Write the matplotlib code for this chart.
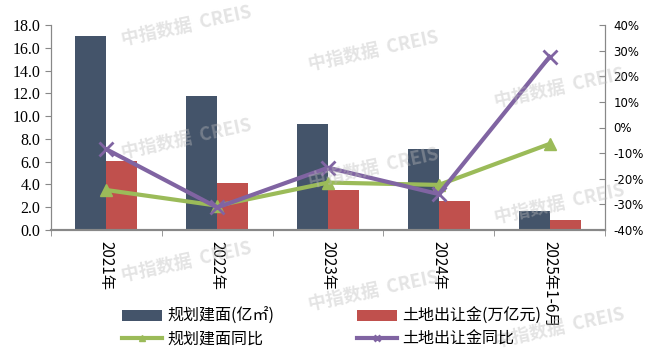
import matplotlib.pyplot as plt
import numpy as np

plt.rcParams['font.family'] = ['Noto Sans CJK SC', 'DejaVu Sans']

categories = ["2021年", "2022年", "2023年", "2024年", "2025年1-6月"]
area = [17.0, 11.8, 9.3, 7.1, 1.7]          # 规划建面(亿㎡)
fee = [6.05, 4.1, 3.5, 2.55, 0.85]          # 土地出让金(万亿元)
area_yoy = [-24.4, -30.5, -21.5, -22.4, -6.4]   # %
fee_yoy = [-8.5, -31.2, -15.7, -26.0, 27.6]     # %
left_ticks = np.arange(0, 18.1, 2)
right_ticks = np.arange(-40, 41, 10)

C_BLUE = '#44546A'
C_RED = '#C0504D'
C_GREEN = '#9BBB59'
C_PURPLE = '#8064A2'
GREY = '#888888'

fig = plt.figure(figsize=(6.66, 3.64), dpi=100)
ax = fig.add_axes([51 / 666, 1 - 230 / 364, 554 / 666, 205 / 364])
ax2 = ax.twinx()

x = np.arange(len(categories))
w = 0.28
b1 = ax.bar(x - w / 2, area, w, color=C_BLUE, label='规划建面(亿㎡)', zorder=2)
b2 = ax.bar(x + w / 2, fee, w, color=C_RED, label='土地出让金(万亿元)', zorder=2)

l1, = ax2.plot(x, area_yoy, color=C_GREEN, lw=3, marker='^', ms=9,
               label='规划建面同比', zorder=3)
l2, = ax2.plot(x, fee_yoy, color=C_PURPLE, lw=3, marker='x', ms=10, mew=2,
               label='土地出让金同比', zorder=4)

ax.set_xlim(-0.5, len(categories) - 0.5)
ax.set_ylim(0, 18)
ax.set_yticks(left_ticks, labels=[f"{v:.1f}" for v in left_ticks],
              fontfamily='Liberation Serif', fontsize=11.5)
ax.tick_params(axis='y', length=4, color=GREY)

ax2.set_ylim(-40, 40)
ax2.set_yticks(right_ticks, labels=[f"{v:.0f}%" for v in right_ticks],
               fontfamily='DejaVu Sans', fontsize=8.5)
ax2.tick_params(axis='y', direction='in', length=4, color=GREY, pad=6)

ax.set_xticks(x)
ax.set_xticklabels(categories, rotation=270, fontsize=11, va='top', ha='center')
ax.set_xticks(np.arange(-0.5, len(categories), 1), minor=True)
ax.tick_params(axis='x', which='major', length=0, pad=8)
ax.tick_params(axis='x', which='minor', length=4, color=GREY)

for a in (ax, ax2):
    a.spines['top'].set_visible(False)
    for s in ('left', 'right', 'bottom'):
        a.spines[s].set_color(GREY)
ax2.spines['bottom'].set_linewidth(1.5)
ax.spines['bottom'].set_linewidth(1.5)

# watermarks
for (wx, wy) in [(0.28, 0.93), (0.56, 0.86), (0.84, 0.76),
                 (0.28, 0.62), (0.56, 0.54), (0.84, 0.44),
                 (0.28, 0.28), (0.56, 0.20), (0.84, 0.10)]:
    fig.text(wx, wy, '中指数据  CREIS', fontsize=13, color='#BBBBBB', alpha=0.4,
             rotation=12, ha='center', va='center', weight='bold', zorder=0)

handles = [b1, l1, b2, l2]
fig.legend(handles, [h.get_label() for h in handles], ncol=2, frameon=False,
           loc='lower left', bbox_to_anchor=(108 / 666, 2 / 364),
           fontsize=11.5, columnspacing=5.2, handlelength=2.5, handletextpad=0.3,
           labelspacing=0.35, markerscale=0.5)

fig.savefig('out.png', dpi=100)
